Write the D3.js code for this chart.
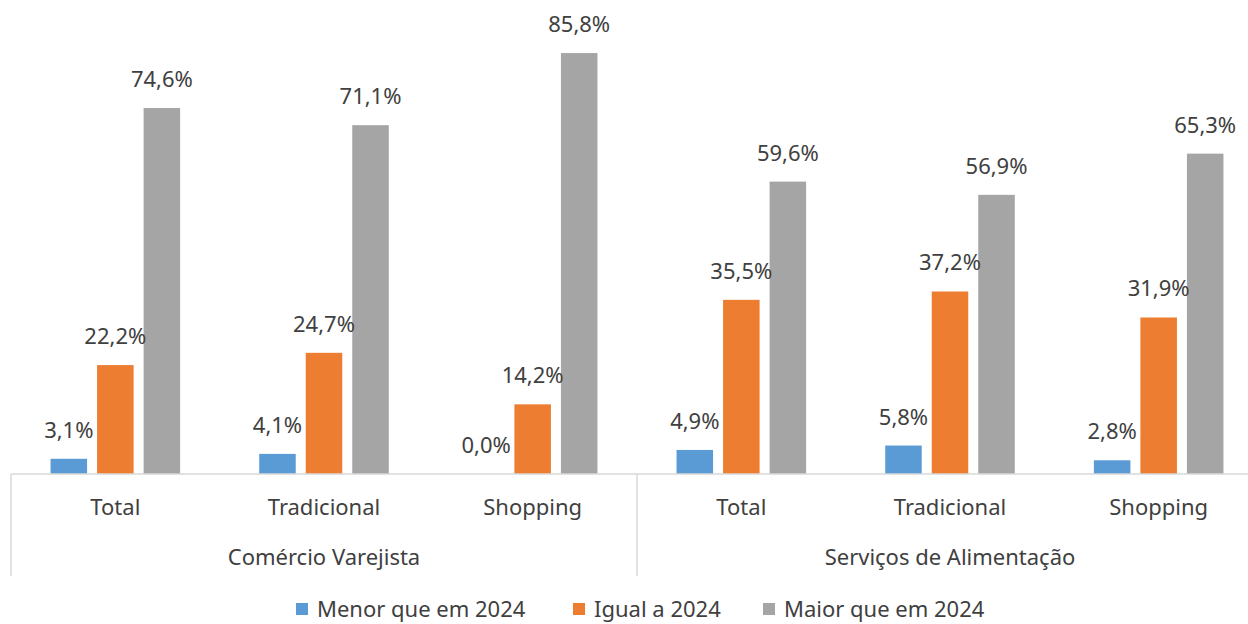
<!DOCTYPE html>
<html>
<head>
<meta charset="utf-8">
<script src="https://cdn.jsdelivr.net/npm/d3@7"></script>
<style>
  body { margin: 0; background: #fff; }
  text { font-family: "Noto Sans", "Open Sans", sans-serif; fill: #404040; }
</style>
</head>
<body>
<div id="chart"></div>
<script>
// data
var groups = ["Comércio Varejista", "Serviços de Alimentação"];
var categories = ["Total", "Tradicional", "Shopping"];
var series = ["Menor que em 2024", "Igual a 2024", "Maior que em 2024"];
var menor = [3.1, 4.1, 0.0, 4.9, 5.8, 2.8];
var igual = [22.2, 24.7, 14.2, 35.5, 37.2, 31.9];
var maior = [74.6, 71.1, 85.8, 59.6, 56.9, 65.3];
var colors = ["#5B9BD5", "#ED7D31", "#A5A5A5"];

var width = 1248, height = 624;
var base = 474, left = 11, groupW = 626;

var svg = d3.select("#chart").append("svg")
    .attr("width", width)
    .attr("height", height);

// one row per bar-category
var rows = [];
groups.forEach(function(g, gi) {
  categories.forEach(function(c, ci) {
    var i = gi * categories.length + ci;
    rows.push({ key: g + "|" + c, group: g, cat: c, values: [menor[i], igual[i], maior[i]] });
  });
});

var x0 = d3.scaleBand()
    .domain(rows.map(function(d) { return d.key; }))
    .range([left, left + groupW * groups.length])
    .padding(0);

var x1 = d3.scaleBand()
    .domain(series)
    .range([0, x0.bandwidth()])
    .paddingInner(0.215)
    .paddingOuter(0.85);

var y = d3.scaleLinear()
    .domain([0, 100])
    .range([base, base - 490.6]);

// bars
var cat = svg.selectAll("g.cat")
    .data(rows)
  .enter().append("g")
    .attr("class", "cat")
    .attr("transform", function(d) { return "translate(" + x0(d.key) + ",0)"; });

cat.selectAll("rect")
    .data(function(d) { return d.values.map(function(v, i) { return { s: series[i], v: v, i: i }; }); })
  .enter().append("rect")
    .attr("x", function(d) { return x1(d.s); })
    .attr("width", x1.bandwidth())
    .attr("y", function(d) { return y(d.v); })
    .attr("height", function(d) { return base - y(d.v); })
    .attr("fill", function(d) { return colors[d.i]; });

cat.selectAll("text.val")
    .data(function(d) { return d.values.map(function(v, i) { return { s: series[i], v: v, i: i }; }); })
  .enter().append("text")
    .attr("class", "val")
    .attr("x", function(d) { return x1(d.s) + x1.bandwidth() / 2; })
    .attr("y", function(d) { return y(d.v) - 21; })
    .attr("text-anchor", "middle")
    .style("font-size", "22px")
    .text(function(d) { return d.v.toFixed(1).replace(".", ",") + "%"; });

// axis line
svg.append("line")
    .attr("x1", left).attr("x2", width)
    .attr("y1", base).attr("y2", base)
    .attr("stroke", "#d9d9d9").attr("stroke-width", 1.5);

// group separators
d3.range(groups.length + 1).forEach(function(i) {
  var xx = left + groupW * i;
  svg.append("line")
      .attr("x1", xx).attr("x2", xx)
      .attr("y1", base).attr("y2", 576)
      .attr("stroke", "#d9d9d9").attr("stroke-width", 1.5);
});

// category labels
svg.selectAll("text.catlab")
    .data(rows)
  .enter().append("text")
    .attr("class", "catlab")
    .attr("x", function(d) { return x0(d.key) + x0.bandwidth() / 2; })
    .attr("y", 515)
    .attr("text-anchor", "middle")
    .style("font-size", "22px")
    .text(function(d) { return d.cat; });

// group labels
svg.selectAll("text.grp")
    .data(groups)
  .enter().append("text")
    .attr("class", "grp")
    .attr("x", function(d, i) { return left + groupW * i + groupW / 2; })
    .attr("y", 565)
    .attr("text-anchor", "middle")
    .style("font-size", "22px")
    .text(function(d) { return d; });

// legend
var legX = [296, 573, 763];
var leg = svg.selectAll("g.leg")
    .data(series)
  .enter().append("g")
    .attr("class", "leg")
    .attr("transform", function(d, i) { return "translate(" + legX[i] + ",603)"; });

leg.append("rect")
    .attr("width", 12).attr("height", 12)
    .attr("fill", function(d, i) { return colors[i]; });

leg.append("text")
    .attr("x", 21)
    .attr("y", 14)
    .style("font-size", "22px")
    .text(function(d) { return d; });
</script>
</body>
</html>
